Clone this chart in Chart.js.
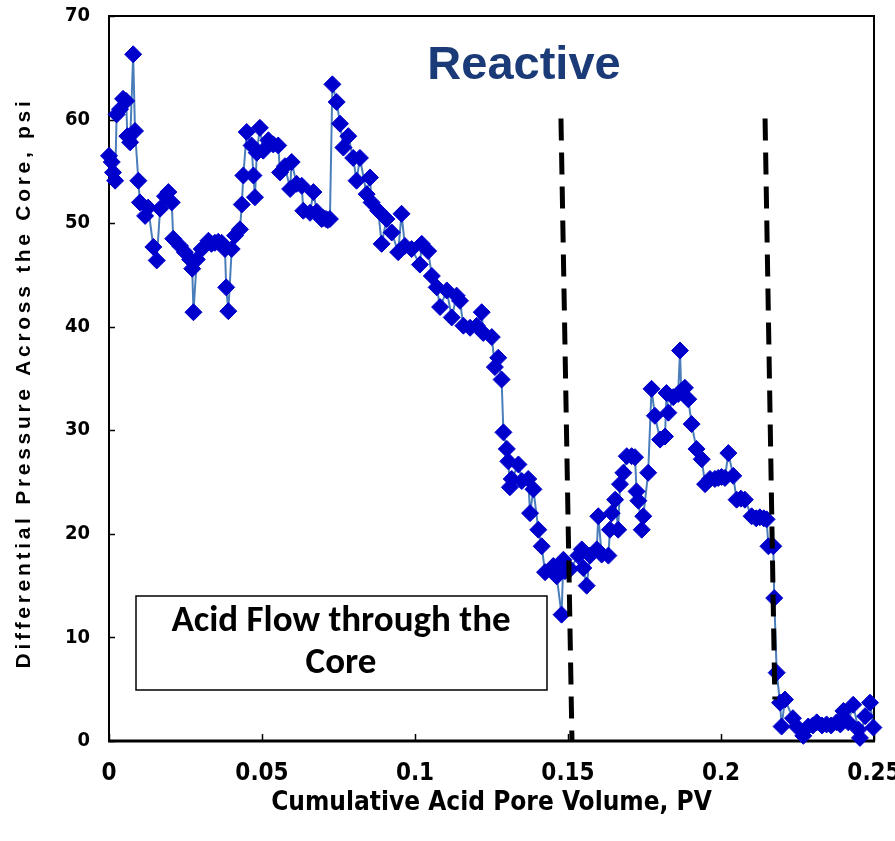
<!DOCTYPE html>
<html>
<head>
<meta charset="utf-8">
<script src="https://cdn.jsdelivr.net/npm/chart.js@4.4.1/dist/chart.umd.min.js"></script>
<style>
  html, body { margin: 0; padding: 0; background: #fff; }
</style>
</head>
<body>
<canvas id="c" width="895" height="841"></canvas>
<script>
// cumulative acid pore volume, PV
const pv = [
  0.0000, 0.0009, 0.0013, 0.0020, 0.0025, 0.0036, 0.0046, 0.0056, 0.0060, 0.0069,
  0.0079, 0.0085, 0.0096, 0.0101, 0.0118, 0.0128, 0.0145, 0.0156, 0.0167, 0.0183,
  0.0194, 0.0205, 0.0210, 0.0232, 0.0248, 0.0265, 0.0272, 0.0276, 0.0287, 0.0303,
  0.0325, 0.0335, 0.0346, 0.0357, 0.0368, 0.0379, 0.0383, 0.0390, 0.0401, 0.0412,
  0.0428, 0.0434, 0.0439, 0.0450, 0.0466, 0.0472, 0.0477, 0.0483, 0.0493, 0.0504,
  0.0521, 0.0537, 0.0553, 0.0559, 0.0575, 0.0592, 0.0597, 0.0613, 0.0630, 0.0635,
  0.0657, 0.0668, 0.0679, 0.0695, 0.0700, 0.0709, 0.0715, 0.0722, 0.0730, 0.0744,
  0.0755, 0.0766, 0.0782, 0.0798, 0.0809, 0.0820, 0.0842, 0.0853, 0.0858, 0.0880,
  0.0891, 0.0907, 0.0924, 0.0945, 0.0956, 0.0967, 0.0989, 0.1016, 0.1022, 0.1043,
  0.1055, 0.1071, 0.1082, 0.1104, 0.1120, 0.1136, 0.1147, 0.1158, 0.1180, 0.1202,
  0.1218, 0.1223, 0.1251, 0.1261, 0.1272, 0.1283, 0.1289, 0.1300, 0.1305, 0.1310,
  0.1316, 0.1338, 0.1349, 0.1370, 0.1376, 0.1387, 0.1403, 0.1414, 0.1425, 0.1452,
  0.1463, 0.1479, 0.1485, 0.1490, 0.1507, 0.1534, 0.1545, 0.1550, 0.1561, 0.1572,
  0.1594, 0.1599, 0.1610, 0.1632, 0.1637, 0.1643, 0.1654, 0.1664, 0.1670, 0.1681,
  0.1692, 0.1708, 0.1719, 0.1724, 0.1730, 0.1741, 0.1746, 0.1762, 0.1773, 0.1784,
  0.1801, 0.1817, 0.1822, 0.1828, 0.1844, 0.1860, 0.1866, 0.1870, 0.1882, 0.1893,
  0.1904, 0.1920, 0.1937, 0.1948, 0.1964, 0.1980, 0.1991, 0.2002, 0.2013, 0.2024,
  0.2040, 0.2051, 0.2065, 0.2078, 0.2100, 0.2115, 0.2127, 0.2140, 0.2149, 0.2155,
  0.2171, 0.2174, 0.2182, 0.2193, 0.2198, 0.2209, 0.2235, 0.2247, 0.2269, 0.2285,
  0.2300, 0.2313, 0.2330, 0.2345, 0.2360, 0.2378, 0.2390, 0.2400, 0.2416, 0.2432,
  0.2449, 0.2454, 0.2471, 0.2487, 0.2498
];
// differential pressure across the core, psi
const dp = [
  56.5, 55.9, 54.9, 54.1, 60.5, 61.0, 62.0, 61.8, 58.4, 57.8,
  66.3, 58.9, 54.1, 52.0, 50.7, 51.5, 47.7, 46.4, 51.4, 52.6,
  53.0, 52.0, 48.5, 47.8, 47.2, 46.5, 45.6, 41.4, 46.5, 47.5,
  48.3, 48.0, 48.1, 48.2, 48.1, 47.5, 43.8, 41.5, 47.5, 48.8,
  49.4, 51.8, 54.6, 58.8, 57.5, 54.6, 52.5, 56.8, 59.2, 57.0,
  58.0, 57.6, 57.5, 54.9, 55.5, 53.3, 55.9, 53.8, 53.6, 51.2,
  51.0, 53.0, 51.1, 50.4, 50.5, 50.4, 50.3, 50.4, 63.4, 61.7,
  59.6, 57.3, 58.4, 56.3, 54.1, 56.3, 52.8, 54.4, 52.0, 51.2,
  48.0, 50.4, 49.1, 47.2, 50.9, 47.8, 47.5, 46.0, 48.0, 47.3,
  44.9, 43.8, 41.9, 43.5, 40.9, 43.0, 42.5, 40.1, 39.9, 40.1,
  41.4, 39.4, 39.0, 36.1, 37.0, 34.9, 29.8, 28.2, 27.0, 24.5,
  25.3, 26.7, 25.1, 25.3, 22.0, 24.3, 20.4, 18.8, 16.3, 16.9,
  15.9, 12.2, 17.5, 16.4, 16.6, 17.9, 18.5, 16.7, 15.0, 17.9,
  18.5, 21.7, 18.0, 17.9, 20.4, 22.0, 23.3, 20.4, 24.8, 25.9,
  27.5, 27.5, 27.4, 24.1, 23.2, 20.4, 21.7, 25.9, 34.0, 31.4,
  29.1, 29.4, 33.6, 31.7, 33.2, 33.5, 37.7, 33.8, 34.1, 33.0,
  30.6, 28.2, 27.2, 24.8, 25.3, 25.3, 25.4, 25.5, 25.4, 27.8,
  25.6, 23.3, 23.4, 23.3, 21.7, 21.5, 21.6, 21.5, 21.4, 18.8,
  18.8, 13.8, 6.6, 3.7, 1.4, 4.0, 2.2, 1.4, 0.5, 1.4,
  1.5, 1.8, 1.5, 1.6, 1.5, 1.8, 1.6, 2.9, 1.8, 3.5,
  1.1, 0.3, 2.4, 3.7, 1.3
];

// dashed markers: [top, bottom] end points
const dashA_pv = [0.1477, 0.1513];
const dashA_dp = [60.1, 0];
const dashB_pv = [0.2144, 0.2176];
const dashB_dp = [60.1, 4.0];

const xTicks = [0, 0.05, 0.1, 0.15, 0.2, 0.25];
const yTicks = [0, 10, 20, 30, 40, 50, 60, 70];

const NARROW = "'Liberation Sans Narrow', 'Arial Narrow', 'DejaVu Sans Condensed', sans-serif";
const SANS = "'Liberation Sans', Arial, sans-serif";

function pts(xs, ys) {
  return xs.map((v, i) => ({ x: v, y: ys[i] }));
}

const decor = {
  id: 'decor',
  beforeDatasetsDraw(chart) {
    const { ctx, chartArea: a, scales: { x, y } } = chart;
    ctx.save();
    ctx.strokeStyle = '#000';
    ctx.lineWidth = 2;
    ctx.beginPath();
    ctx.moveTo(a.left, a.bottom);
    ctx.lineTo(a.left, a.top);
    ctx.lineTo(a.right, a.top);
    ctx.lineTo(a.right, a.bottom);
    ctx.stroke();
    ctx.lineWidth = 3;
    ctx.beginPath();
    ctx.moveTo(a.left - 1, a.bottom);
    ctx.lineTo(a.right + 1, a.bottom);
    ctx.stroke();
    // inward tick marks
    ctx.lineWidth = 1.5;
    ctx.beginPath();
    yTicks.forEach(v => {
      const py = Math.round(y.getPixelForValue(v)) + 0.5;
      ctx.moveTo(a.left, py);
      ctx.lineTo(a.left + 6, py);
    });
    xTicks.forEach(v => {
      const px = Math.round(x.getPixelForValue(v)) + 0.5;
      ctx.moveTo(px, a.bottom);
      ctx.lineTo(px, a.bottom - 7);
    });
    ctx.stroke();
    ctx.restore();
  },
  afterDraw(chart) {
    const { ctx } = chart;
    ctx.save();
    // y axis title
    ctx.translate(24, 383);
    ctx.rotate(-Math.PI / 2);
    ctx.font = 'bold 21px ' + SANS;
    ctx.letterSpacing = '3.7px';
    ctx.fillStyle = '#000';
    ctx.textAlign = 'center';
    ctx.textBaseline = 'middle';
    ctx.fillText('Differential Pressure Across the Core, psi', 0, 0);
    ctx.restore();

    ctx.save();
    ctx.fillStyle = '#1B3A78';
    ctx.font = 'bold 47px ' + SANS;
    ctx.textAlign = 'center';
    ctx.textBaseline = 'alphabetic';
    ctx.fillText('Reactive', 524, 79);

    // text box
    ctx.fillStyle = '#fff';
    ctx.fillRect(136, 596, 411, 94);
    ctx.strokeStyle = '#000';
    ctx.lineWidth = 1.5;
    ctx.strokeRect(136, 596, 411, 94);
    ctx.fillStyle = '#000';
    ctx.font = "bold 37px Carlito, Lato, 'Open Sans', sans-serif";
    ctx.textBaseline = 'middle';
    ctx.fillText('Acid Flow through the', 341, 622);
    ctx.fillText('Core', 341, 664);
    ctx.restore();
  }
};

new Chart('c', {
  type: 'line',
  data: {
    datasets: [
      {
        data: pts(dashA_pv, dashA_dp),
        borderColor: '#000', borderWidth: 5, borderDash: [22, 12],
        pointRadius: 0, fill: false, tension: 0
      },
      {
        data: pts(dashB_pv, dashB_dp),
        borderColor: '#000', borderWidth: 5, borderDash: [22, 12],
        pointRadius: 0, fill: false, tension: 0
      },
      {
        data: pts(pv, dp),
        borderColor: '#4A7EBB', borderWidth: 2,
        pointStyle: 'rectRot', pointRadius: 8.5,
        pointBackgroundColor: '#0000CC', pointBorderColor: '#0000CC', pointBorderWidth: 1,
        fill: false, tension: 0, clip: false
      }
    ]
  },
  options: {
    responsive: false,
    animation: false,
    parsing: false,
    layout: { padding: { top: 16, right: 21, left: 0, bottom: 0 } },
    plugins: { legend: { display: false }, tooltip: { enabled: false } },
    scales: {
      x: {
        type: 'linear', min: 0, max: 0.25,
        afterFit(s) { s.height = 100; s.paddingLeft = 0; s.paddingRight = 0; },
        afterBuildTicks(s) { s.ticks = xTicks.map(v => ({ value: v })); },
        grid: { display: false, drawTicks: false },
        border: { display: false },
        ticks: {
          padding: 18, color: '#000',
          font: { family: NARROW, size: 24, weight: 'bold' },
          callback: v => String(+v.toFixed(2))
        },
        title: {
          display: true, text: 'Cumulative Acid Pore Volume, PV', color: '#000',
          font: { family: NARROW, size: 26, weight: 'bold' },
          padding: { top: 0, bottom: 22 }
        }
      },
      y: {
        type: 'linear', min: 0, max: 70,
        afterFit(s) { s.width = 109; s.paddingTop = 0; s.paddingBottom = 0; },
        afterBuildTicks(s) { s.ticks = yTicks.map(v => ({ value: v })); },
        grid: { display: false, drawTicks: false },
        border: { display: false },
        ticks: {
          padding: 19, color: '#000',
          font: { family: NARROW, size: 20, weight: 'bold' }
        }
      }
    }
  },
  plugins: [decor]
});
</script>
</body>
</html>
